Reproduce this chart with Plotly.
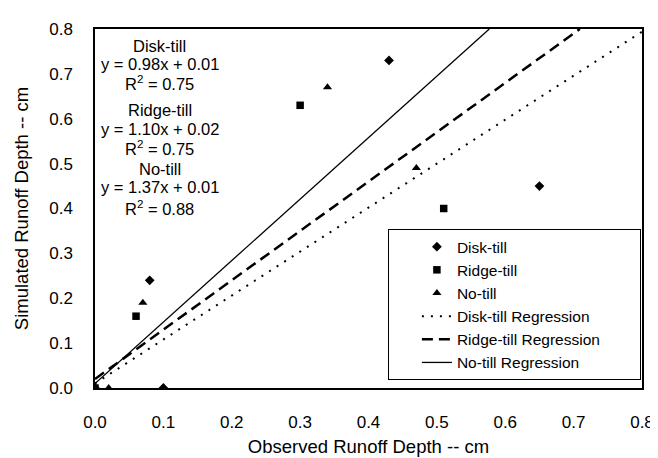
import plotly.graph_objects as go

# ---- data ----
disk_x = [0.0, 0.10, 0.08, 0.43, 0.65]
disk_y = [0.0, 0.0, 0.24, 0.73, 0.45]
ridge_x = [0.0, 0.06, 0.30, 0.51]
ridge_y = [0.0, 0.16, 0.63, 0.40]
notill_x = [0.02, 0.07, 0.34, 0.47]
notill_y = [0.0, 0.19, 0.67, 0.49]

# regression (slope, intercept, R2)
disk_fit = (0.98, 0.01, 0.75)
ridge_fit = (1.10, 0.02, 0.75)
notill_fit = (1.37, 0.01, 0.88)

x_ticks = [0.0, 0.1, 0.2, 0.3, 0.4, 0.5, 0.6, 0.7, 0.8]
y_ticks = [0.0, 0.1, 0.2, 0.3, 0.4, 0.5, 0.6, 0.7, 0.8]
XMAX = 0.8
YMAX = 0.8

FONT = "Liberation Sans, Arial, sans-serif"
NB = "\u00a0"


def fit_line(fit):
    m, b, _ = fit
    x_end = min(XMAX, (YMAX - b) / m)
    return [0.0, x_end], [b, m * x_end + b]


fig = go.Figure()
fig.add_trace(go.Scatter(x=disk_x, y=disk_y, mode="markers", name="Disk-till",
                         marker=dict(symbol="diamond", size=7.5, color="black")))
fig.add_trace(go.Scatter(x=ridge_x, y=ridge_y, mode="markers", name="Ridge-till",
                         marker=dict(symbol="square", size=7.5, color="black")))
fig.add_trace(go.Scatter(x=notill_x, y=notill_y, mode="markers", name="No-till",
                         marker=dict(symbol="triangle-up", size=8, color="black")))

lx, ly = fit_line(disk_fit)
fig.add_trace(go.Scatter(x=lx, y=ly, mode="lines", name="Disk-till Regression",
                         line=dict(color="black", width=2, dash="2px,7px")))
lx, ly = fit_line(ridge_fit)
fig.add_trace(go.Scatter(x=lx, y=ly, mode="lines", name="Ridge-till Regression" + NB * 8,
                         line=dict(color="black", width=2.5, dash="11px,6px")))
lx, ly = fit_line(notill_fit)
fig.add_trace(go.Scatter(x=lx, y=ly, mode="lines", name="No-till Regression",
                         line=dict(color="black", width=1.3)))

# equation text block
labels = [("Disk-till", disk_fit), ("Ridge-till", ridge_fit), ("No-till", notill_fit)]
ypos = [[0.763, 0.723, 0.680], [0.620, 0.578, 0.535], [0.489, 0.448, 0.401]]
for (name, (m, b, r2)), ys in zip(labels, ypos):
    texts = [name, f"y = {m:.2f}x + {b:.2f}", f"R<sup>2</sup> = {r2:.2f}"]
    for t, yy in zip(texts, ys):
        fig.add_annotation(x=0.0946, y=yy, xref="x", yref="y", text=t,
                           showarrow=False, font=dict(size=16.5, color="black", family=FONT),
                           xanchor="center", yanchor="middle")

fig.update_layout(
    width=658, height=458,
    margin=dict(l=87, r=24, t=14, b=75),
    paper_bgcolor="white", plot_bgcolor="white",
    font=dict(family=FONT, size=16, color="black"),
    showlegend=True,
    legend=dict(x=0.998, y=0.022, xanchor="right", yanchor="bottom",
                bordercolor="black", borderwidth=1, bgcolor="white",
                font=dict(size=15.5, family=FONT), itemwidth=30, indentation=28,
                tracegroupgap=0),
    xaxis=dict(range=[0, XMAX], tickvals=x_ticks, tickformat=".1f",
               showgrid=False, zeroline=False, showline=True, linecolor="black",
               linewidth=1.5, mirror=True, ticks="", ticklabelstandoff=18,
               tickfont=dict(size=17),
               title=dict(text="Observed Runoff Depth -- cm", standoff=9,
                          font=dict(size=18.5))),
    yaxis=dict(range=[0, YMAX], tickvals=y_ticks, tickformat=".1f",
               showgrid=False, zeroline=False, showline=True, linecolor="black",
               linewidth=1.5, mirror=True, ticks="", ticklabelstandoff=17,
               tickfont=dict(size=17),
               title=dict(text="Simulated Runoff Depth -- cm", standoff=16,
                          font=dict(size=18.5))),
)

fig.write_html("out.html")
